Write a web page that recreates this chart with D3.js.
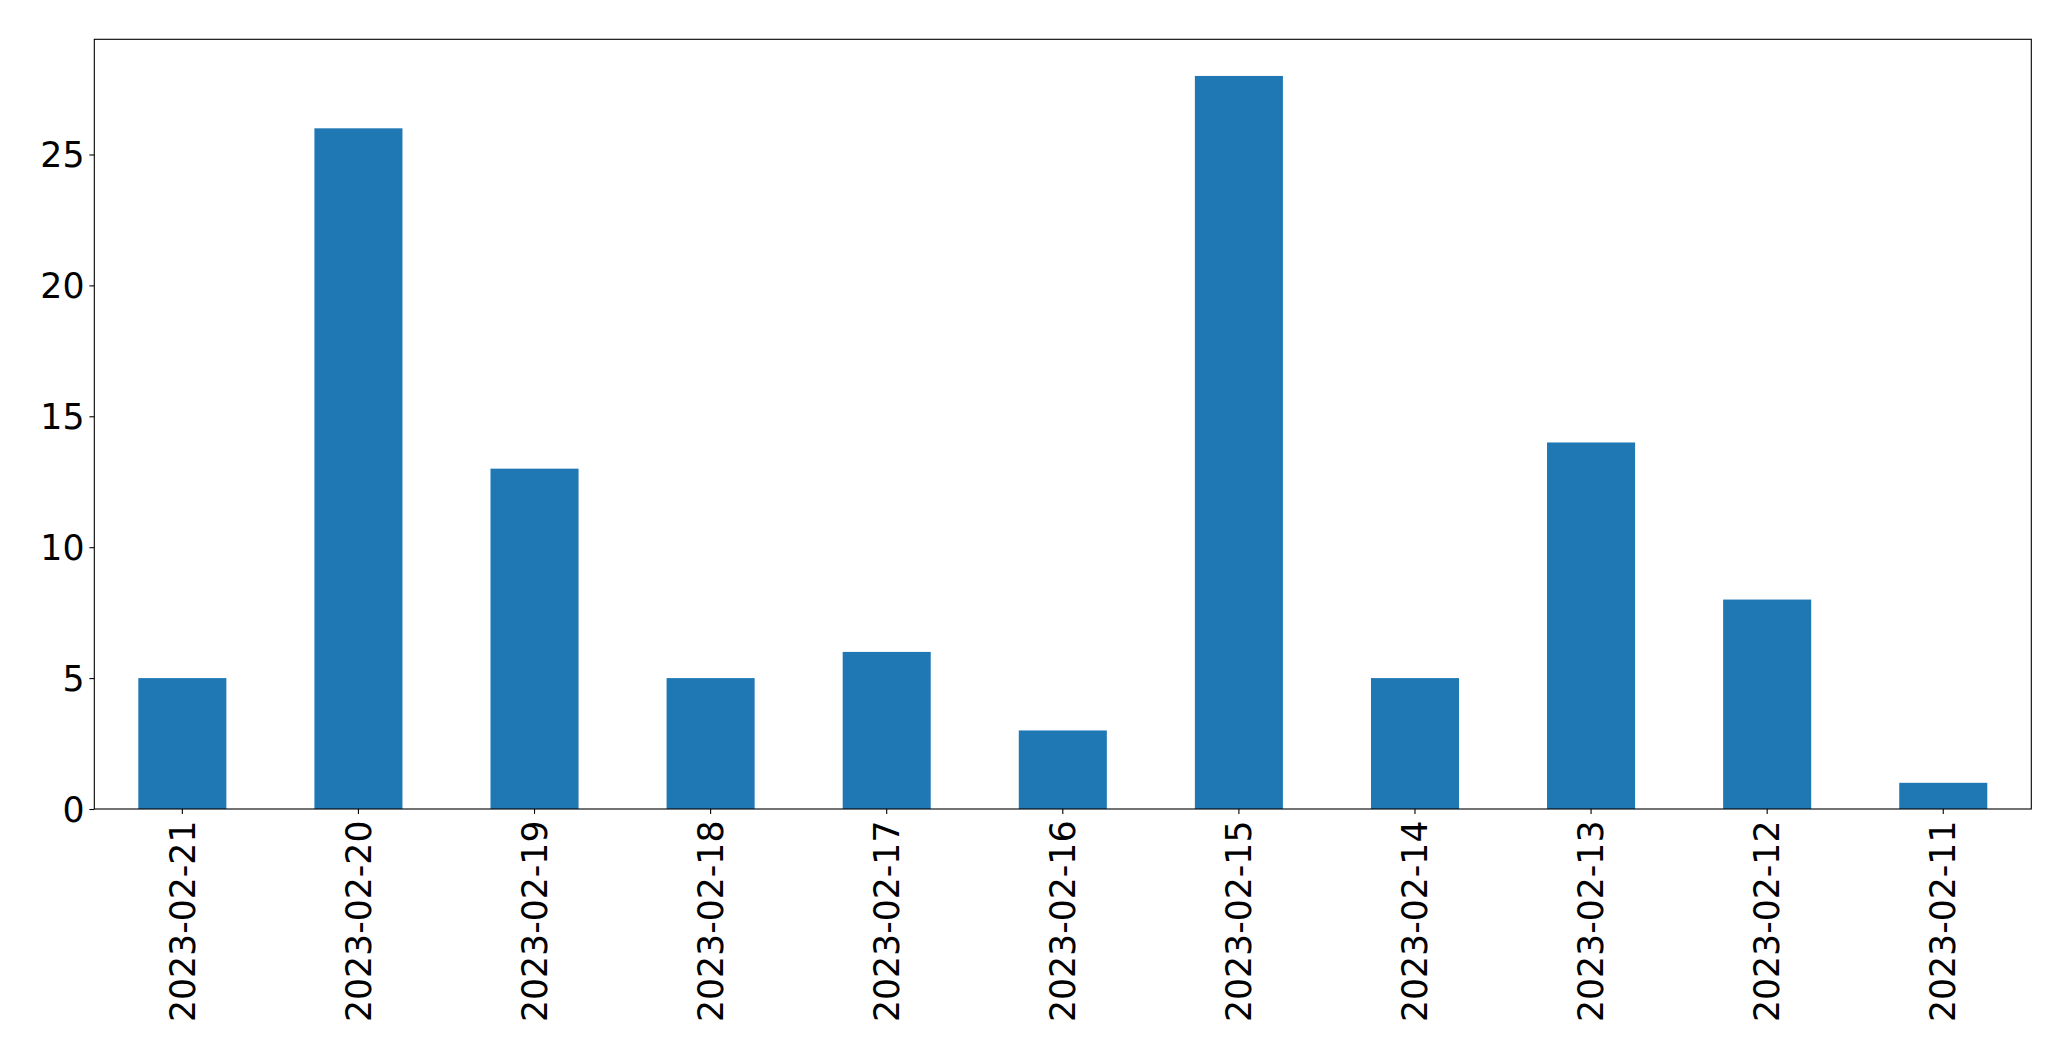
<!DOCTYPE html>
<html>
<head>
<meta charset="utf-8">
<script src="https://cdn.jsdelivr.net/npm/d3@7"></script>
<style>
html,body{margin:0;padding:0;background:#fff;}
svg{display:block;}
</style>
</head>
<body>
<script>
const categories = ["2023-02-21","2023-02-20","2023-02-19","2023-02-18","2023-02-17","2023-02-16","2023-02-15","2023-02-14","2023-02-13","2023-02-12","2023-02-11"];
const values = [5, 26, 13, 5, 6, 3, 28, 5, 14, 8, 1];
const yTicks = [0, 5, 10, 15, 20, 25];

const W = 2071, H = 1061;
const m = {left: 94.3, right: W - 2031.3, top: 39.3, bottom: H - 809};
const iw = W - m.left - m.right, ih = H - m.top - m.bottom;

const svg = d3.select("body").append("svg").attr("width", W).attr("height", H)
  .style("font-family", "'DejaVu Sans', sans-serif");
const g = svg.append("g").attr("transform", `translate(${m.left},${m.top})`);

const x = d3.scaleBand().domain(categories).range([0, iw]).paddingInner(0.5).paddingOuter(0.25);
const y = d3.scaleLinear().domain([0, d3.max(values) * 1.05]).range([ih, 0]);

g.selectAll("rect.bar").data(values).join("rect")
  .attr("class", "bar")
  .attr("x", (d, i) => x(categories[i]))
  .attr("y", d => y(d))
  .attr("width", x.bandwidth())
  .attr("height", d => ih - y(d))
  .attr("fill", "#1f77b4");

const yAxis = g.append("g").call(d3.axisLeft(y).tickValues(yTicks).tickFormat(d3.format("d")).tickSize(4.9).tickPadding(4.9));
const xAxis = g.append("g").attr("transform", `translate(0,${ih})`).call(d3.axisBottom(x).tickSize(4.9).tickPadding(4.9));

[yAxis, xAxis].forEach(a => {
  a.select(".domain").remove();
  a.selectAll(".tick line").attr("stroke", "#000").attr("stroke-width", 1.1);
  a.selectAll("text").attr("font-size", 34.7).attr("fill", "#000").attr("font-family", "'DejaVu Sans', sans-serif");
});
yAxis.selectAll("text").attr("dy", "0.35em");
xAxis.selectAll("text")
  .attr("transform", "rotate(-90)")
  .attr("text-anchor", "end")
  .attr("x", -11.5)
  .attr("y", 0)
  .attr("dy", "0.35em");

g.append("rect").attr("x", 0).attr("y", 0).attr("width", iw).attr("height", ih)
  .attr("fill", "none").attr("stroke", "#000").attr("stroke-width", 1.1);
</script>
</body>
</html>
